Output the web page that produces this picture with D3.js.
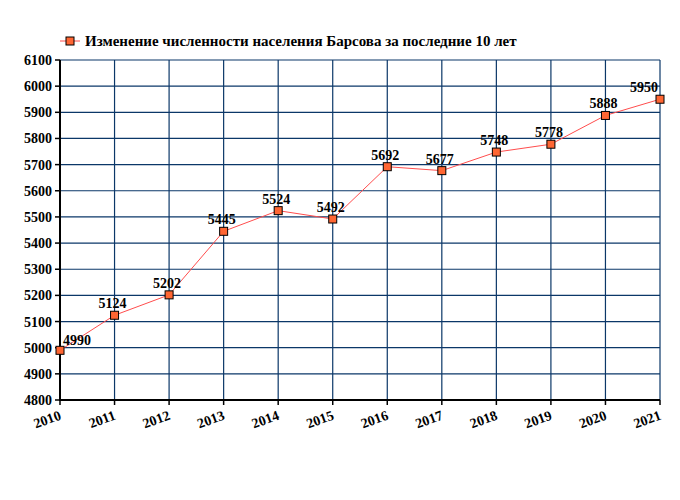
<!DOCTYPE html><html><head><meta charset="utf-8"><script src="https://cdn.jsdelivr.net/npm/d3@7"></script>
<style>body{margin:0;background:#fff}svg text{font-family:"Liberation Serif","Times New Roman","DejaVu Serif",serif;font-weight:bold}</style></head><body><svg id="c" width="680" height="500" font-family="Liberation Serif, Times New Roman, serif"></svg><script>
const years=[2010,2011,2012,2013,2014,2015,2016,2017,2018,2019,2020,2021];
const values=[4990,5124,5202,5445,5524,5492,5692,5677,5748,5778,5888,5950];
const yTicks=d3.range(4800,6101,100);
const title="Изменение численности населения Барсова за последние 10 лет";
const svg=d3.select("#c");
const x=d3.scaleLinear().domain([2010,2021]).range([60,660]);
const y=d3.scaleLinear().domain([4800,6100]).range([400,60]);
const grid="#0b3768";
svg.append("g").selectAll("line").data(years.slice(1)).join("line").attr("x1",d=>x(d)).attr("x2",d=>x(d)).attr("y1",60).attr("y2",400).attr("stroke",grid).attr("stroke-width",1.2);
svg.append("g").selectAll("line").data(yTicks.slice(1)).join("line").attr("x1",60).attr("x2",660).attr("y1",d=>y(d)).attr("y2",d=>y(d)).attr("stroke",grid).attr("stroke-width",1.2);
svg.append("line").attr("x1",60).attr("x2",60).attr("y1",60).attr("y2",401).attr("stroke","#000").attr("stroke-width",2);
svg.append("line").attr("x1",59).attr("x2",660).attr("y1",400).attr("y2",400).attr("stroke","#000").attr("stroke-width",2);
svg.append("g").selectAll("line").data(yTicks).join("line").attr("x1",55).attr("x2",60).attr("y1",d=>y(d)).attr("y2",d=>y(d)).attr("stroke","#000").attr("stroke-width",1.5);
svg.append("g").selectAll("line").data(years).join("line").attr("x1",d=>x(d)).attr("x2",d=>x(d)).attr("y1",400).attr("y2",405).attr("stroke","#000").attr("stroke-width",1.5);
svg.append("g").selectAll("text").data(yTicks).join("text").attr("x",52).attr("y",d=>y(d)+5).attr("text-anchor","end").attr("font-size",14).text(d=>d);
svg.append("g").selectAll("text").data(years).join("text").attr("transform",d=>`translate(${x(d)+2},${419}) rotate(-20)`).attr("text-anchor","end").attr("font-size",14).text(d=>d);
const line=d3.line().x((d,i)=>x(years[i])).y(d=>y(d));
svg.append("path").attr("d",line(values)).attr("fill","none").attr("stroke","#ff4d4d").attr("stroke-width",1);
svg.append("g").selectAll("rect").data(values).join("rect").attr("x",(d,i)=>x(years[i])-4).attr("y",d=>y(d)-4).attr("width",8).attr("height",8).attr("fill","#ff6633").attr("stroke","#000").attr("stroke-width",1);
svg.append("g").selectAll("text").data(values).join("text").attr("x",(d,i)=>i==0?x(years[i])+3:(i==values.length-1?x(years[i])-16:x(years[i])-2)).attr("y",(d,i)=>i==0?y(d)-5:y(d)-7).attr("text-anchor",(d,i)=>i==0?"start":"middle").attr("font-size",14).text(d=>d);
svg.append("line").attr("x1",60).attr("x2",80).attr("y1",41).attr("y2",41).attr("stroke","#ff4d4d");
svg.append("rect").attr("x",66).attr("y",37).attr("width",8).attr("height",8).attr("fill","#ff6633").attr("stroke","#000");
svg.append("text").attr("x",85).attr("y",46).attr("font-size",15).text(title);
</script></body></html>
